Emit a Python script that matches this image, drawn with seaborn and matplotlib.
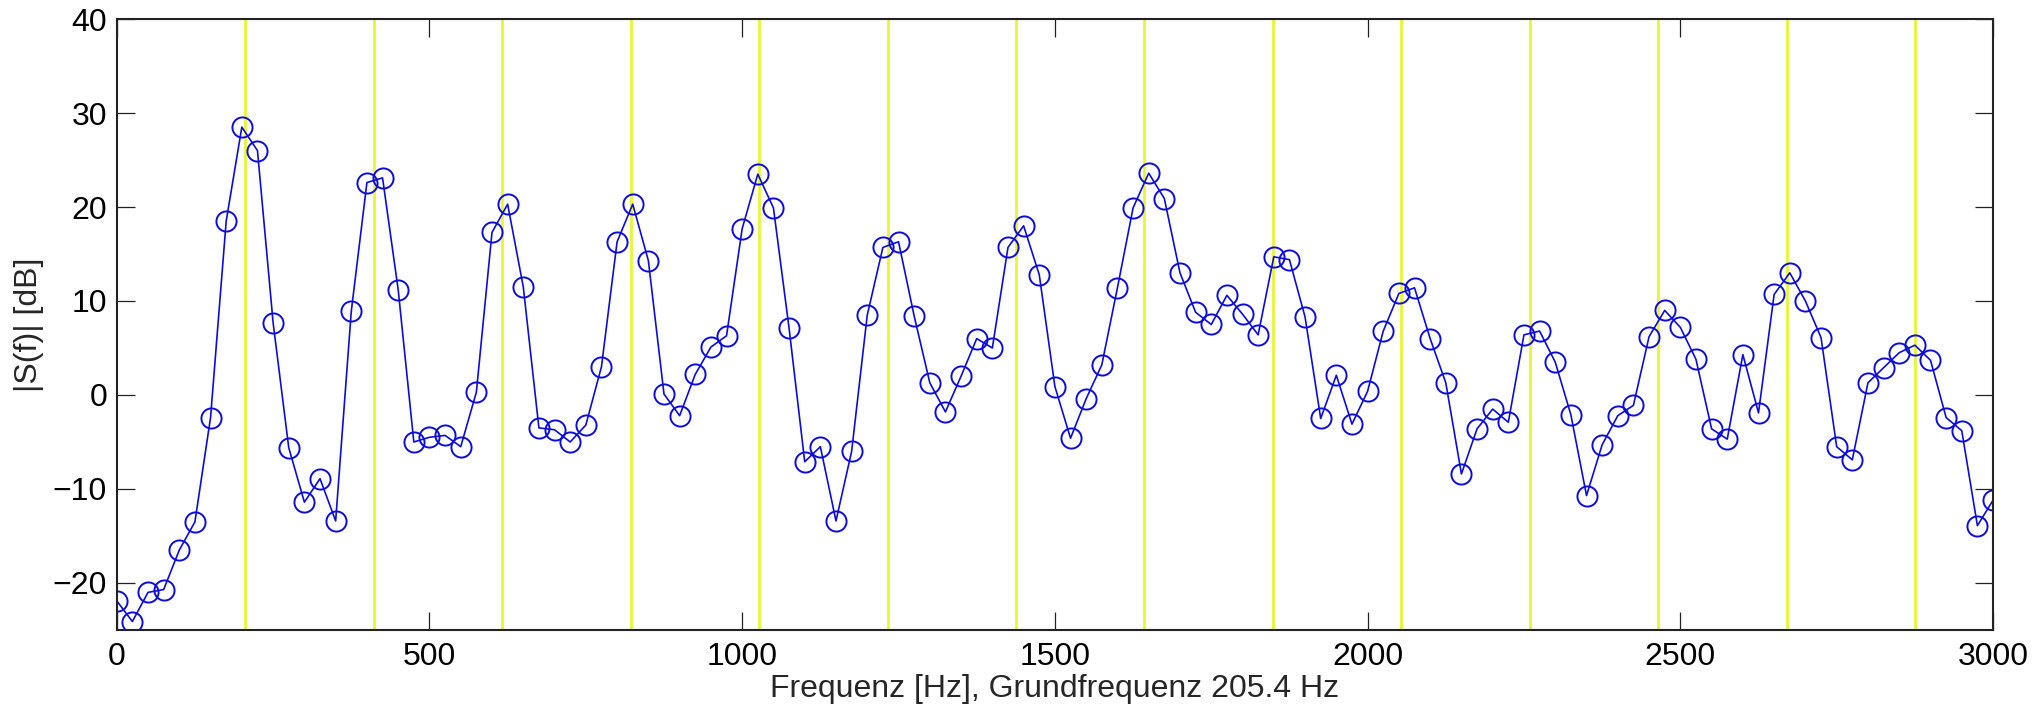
import numpy as np
import pandas as pd
import matplotlib
matplotlib.use("Agg")
import matplotlib.pyplot as plt
import seaborn as sns

# ------------------------------------------------------
#   data (25 Hz bins)
# ------------------------------------------------------
freq_hz = [
    0, 25, 50, 75, 100, 125, 150, 175, 200, 225,
    250, 275, 300, 325, 350, 375, 400, 425, 450, 475,
    500, 525, 550, 575, 600, 625, 650, 675, 700, 725,
    750, 775, 800, 825, 850, 875, 900, 925, 950, 975,
    1000, 1025, 1050, 1075, 1100, 1125, 1150, 1175, 1200, 1225,
    1250, 1275, 1300, 1325, 1350, 1375, 1400, 1425, 1450, 1475,
    1500, 1525, 1550, 1575, 1600, 1625, 1650, 1675, 1700, 1725,
    1750, 1775, 1800, 1825, 1850, 1875, 1900, 1925, 1950, 1975,
    2000, 2025, 2050, 2075, 2100, 2125, 2150, 2175, 2200, 2225,
    2250, 2275, 2300, 2325, 2350, 2375, 2400, 2425, 2450, 2475,
    2500, 2525, 2550, 2575, 2600, 2625, 2650, 2675, 2700, 2725,
    2750, 2775, 2800, 2825, 2850, 2875, 2900, 2925, 2950, 2975,
    3000,
]

level_db = [
    -21.9, -24.1, -21.0, -20.7, -16.5, -13.5, -2.4, 18.5, 28.5, 26.0,
    7.7, -5.6, -11.4, -8.9, -13.4, 8.9, 22.6, 23.1, 11.2, -5.0,
    -4.5, -4.3, -5.5, 0.3, 17.3, 20.3, 11.5, -3.5, -3.7, -5.0,
    -3.2, 3.0, 16.3, 20.3, 14.3, 0.1, -2.2, 2.2, 5.1, 6.3,
    17.7, 23.5, 19.9, 7.1, -7.1, -5.5, -13.4, -6.0, 8.5, 15.7,
    16.3, 8.4, 1.3, -1.8, 2.0, 6.0, 5.0, 15.7, 18.0, 12.8,
    0.9, -4.6, -0.4, 3.2, 11.4, 19.9, 23.6, 20.9, 13.0, 8.8,
    7.5, 10.6, 8.6, 6.4, 14.7, 14.4, 8.3, -2.5, 2.1, -3.1,
    0.4, 6.8, 10.8, 11.4, 6.0, 1.3, -8.4, -3.6, -1.5, -2.9,
    6.4, 6.8, 3.5, -2.1, -10.7, -5.3, -2.2, -1.1, 6.2, 9.0,
    7.2, 3.8, -3.6, -4.7, 4.3, -1.9, 10.7, 13.0, 10.0, 6.1,
    -5.5, -6.9, 1.3, 2.9, 4.5, 5.3, 3.7, -2.4, -3.8, -13.9,
    -11.2,
]

# harmonics of the fundamental 205.4 Hz
harmonics_hz = [205.4, 410.8, 616.2, 821.6, 1027.0, 1232.4, 1437.8,
                1643.2, 1848.6, 2054.0, 2259.4, 2464.8, 2670.2, 2875.6]

x_ticks = [0, 500, 1000, 1500, 2000, 2500, 3000]
y_ticks = [-20, -10, 0, 10, 20, 30, 40]

# ------------------------------------------------------
#   style
# ------------------------------------------------------
sns.set_theme(context="paper", style="ticks")
plt.rcParams["font.family"] = ["Liberation Sans", "DejaVu Sans"]
plt.rcParams["axes.unicode_minus"] = True

BLUE = "#0c0cdc"
YELLOW = "#eaf532"
FS = 23

df = pd.DataFrame({"freq": freq_hz, "db": level_db})

fig = plt.figure(figsize=(20.41, 7.12), dpi=100)
ax = fig.add_axes([0.0572, 0.1152, 0.9193, 0.8581])

for h in harmonics_hz:
    ax.axvline(h, color=YELLOW, linewidth=2.0, zorder=1)

sns.lineplot(data=df, x="freq", y="db", ax=ax, color=BLUE,
             linewidth=1.2, marker="o", markersize=14.5,
             markerfacecolor="none", markeredgecolor=BLUE,
             markeredgewidth=1.4, zorder=3)

ax.set_xlim(0, 3000)
ax.set_ylim(-25, 40)
ax.set_xticks(x_ticks)
ax.set_yticks(y_ticks)

ax.tick_params(axis="both", direction="in", length=13, width=0.9,
               colors="#222222", labelcolor="black", labelsize=FS,
               top=True, right=True)
ax.tick_params(axis="x", pad=9)
ax.tick_params(axis="y", pad=7)

for s in ax.spines.values():
    s.set_visible(True)
    s.set_color("#222222")
    s.set_linewidth(1.5)
    s.set_zorder(5)

ax.set_xlabel("Frequenz [Hz], Grundfrequenz 205.4 Hz", fontsize=FS,
              labelpad=1)
ax.set_ylabel("|S(f)| [dB]", fontsize=FS, labelpad=6)

fig.savefig("out.png", dpi=100)
